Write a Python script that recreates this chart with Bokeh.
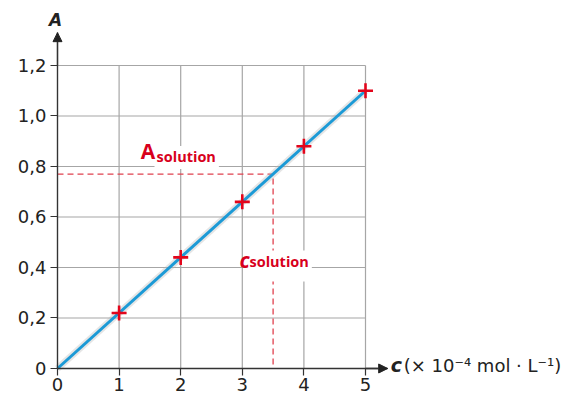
from bokeh.plotting import figure
from bokeh.models import Range1d, FixedTicker, Label, Arrow, NormalHead
from bokeh.embed import file_html
from bokeh.resources import INLINE

# ---- data ----
conc = [1, 2, 3, 4, 5]
absorb = [0.22, 0.44, 0.66, 0.88, 1.10]
fit_x = [0, 5]
fit_y = [0, 1.10]
a_solution = 0.77
c_solution = 3.5
x_ticks = [0, 1, 2, 3, 4, 5]
x_tick_labels = ["0", "1", "2", "3", "4", "5"]
y_ticks = [0, 0.2, 0.4, 0.6, 0.8, 1.0, 1.2]
y_tick_labels = ["0", "0,2", "0,4", "0,6", "0,8", "1,0", "1,2"]

X_AXIS_END = 5.36   # arrow tip of the x axis
Y_AXIS_END = 1.33   # arrow tip of the y axis
X_VIEW = (-0.9253, 8.5227)
Y_VIEW = (-0.1307, 1.4574)
RED = "#d8001c"
TICK_FONT = "DejaVu Sans"
LAB_FONT = "Open Sans"

p = figure(width=582, height=401, output_backend="svg", toolbar_location=None,
           x_range=Range1d(*X_VIEW), y_range=Range1d(*Y_VIEW),
           min_border=0)
p.outline_line_color = None
p.xgrid.visible = False
p.ygrid.visible = False

# grid
n_x = len(x_ticks)
n_y = len(y_ticks)
p.segment(x0=x_ticks, y0=[y_ticks[0]] * n_x, x1=x_ticks, y1=[y_ticks[-1]] * n_x,
          line_color="#a6a6a6", line_width=1.2)
p.segment(x0=[x_ticks[0]] * n_y, y0=y_ticks, x1=[x_ticks[-1]] * n_y, y1=y_ticks,
          line_color="#a6a6a6", line_width=1.2)

# axes (drawn at the origin, inside the frame)
for ax in (p.xaxis[0], p.yaxis[0]):
    ax.fixed_location = 0
    ax.axis_line_color = "#333333"
    ax.axis_line_width = 1.3
    ax.major_tick_line_color = "#333333"
    ax.major_tick_line_width = 1.2
    ax.major_tick_in = 0
    ax.major_tick_out = 7
    ax.minor_tick_line_color = None
    ax.major_label_text_font = TICK_FONT
    ax.major_label_text_font_size = "18px"
    ax.major_label_text_color = "#222222"
p.xaxis.bounds = (0, X_AXIS_END)
p.yaxis.bounds = (0, Y_AXIS_END)
p.xaxis.ticker = FixedTicker(ticks=x_ticks)
p.yaxis.ticker = FixedTicker(ticks=y_ticks)
p.xaxis.major_label_overrides = dict(zip(x_ticks, x_tick_labels))
p.yaxis.major_label_overrides = dict(zip(y_ticks, y_tick_labels))
p.xaxis.major_label_standoff = 3
p.yaxis.major_label_standoff = 4

# axis arrows
p.add_layout(Arrow(end=NormalHead(size=9, fill_color="#222222", line_color="#222222", line_width=1),
                   x_start=x_ticks[-1], y_start=0, x_end=X_AXIS_END, y_end=0,
                   line_color="#333333", line_width=1.3))
p.add_layout(Arrow(end=NormalHead(size=9, fill_color="#222222", line_color="#222222", line_width=1),
                   x_start=0, y_start=y_ticks[-1], x_end=0, y_end=Y_AXIS_END,
                   line_color="#333333", line_width=1.3))

# dashed reading lines
p.line(x=[0, c_solution, c_solution], y=[a_solution, a_solution, 0],
       line_color="#e0404e", line_width=1.3, line_dash="6 4")

# calibration line (soft shadow + line)
p.line(x=fit_x, y=fit_y, line_color="#b5b5b5", line_width=7, line_alpha=0.35)
p.line(x=fit_x, y=fit_y, line_color="#1c9ad6", line_width=3)

# measured points
p.scatter(x=conc, y=absorb, marker="cross", size=15, line_width=2.6, line_color="#e3051b")

# axis titles
p.add_layout(Label(x=0, y=Y_AXIS_END, text="A", text_align="center", text_baseline="alphabetic",
                   x_offset=-2, y_offset=13, text_font=TICK_FONT, text_font_size="17px",
                   text_font_style="bold italic", text_color="#222222"))
p.add_layout(Label(x=X_AXIS_END, y=0, text="c", text_align="left", text_baseline="alphabetic",
                   x_offset=3, y_offset=3, text_font=TICK_FONT, text_font_size="19px",
                   text_font_style="bold italic", text_color="#222222"))
p.add_layout(Label(x=X_AXIS_END, y=0, text="(× 10⁻⁴ mol · L⁻¹)", text_align="left",
                   text_baseline="alphabetic", x_offset=16, y_offset=3,
                   text_font=TICK_FONT, text_font_size="18px", text_color="#222222"))

# annotations A_solution / c_solution
lab_kw = dict(text_color=RED, text_font=LAB_FONT, text_baseline="alphabetic",
              text_align="left", y_offset=7)
p.add_layout(Label(x=1.575, y=0.808, text="solution", text_font_size="14.5px",
                   text_font_style="bold", background_fill_color="white",
                   padding=(2, 3, 1, 3), **lab_kw))
p.add_layout(Label(x=1.35, y=0.832, text="A", text_font_size="21px",
                   text_font_style="bold", background_fill_color="white",
                   padding=0, **lab_kw))
p.add_layout(Label(x=3.084, y=0.378, text="solution", text_font_size="14.5px",
                   text_font_style="bold", background_fill_color="white",
                   padding=(2, 3, 1, 11), **lab_kw))
p.add_layout(Label(x=2.955, y=0.40, text="c", text_font_size="21px",
                   text_font_style="bold italic", **lab_kw))

open("out.html", "w").write(file_html(p, INLINE))
